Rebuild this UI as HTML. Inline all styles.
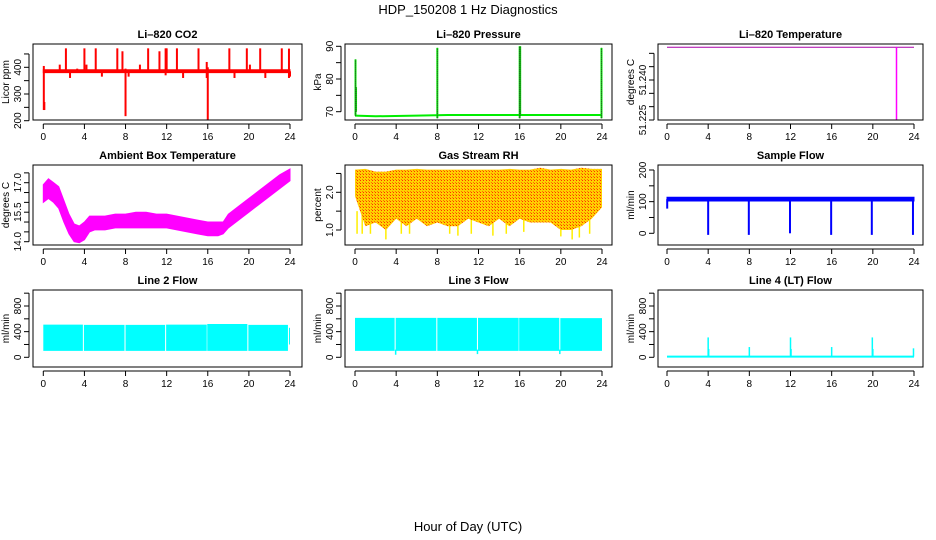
<!DOCTYPE html>
<html><head><meta charset="utf-8"><style>
html,body{margin:0;padding:0;background:#fff;}
svg{display:block;font-family:"Liberation Sans",sans-serif;}
</style></head><body>
<svg id="c" width="936" height="540" viewBox="0 0 936 540" xmlns="http://www.w3.org/2000/svg">
<defs>
<pattern id="rhpat" width="3" height="3" patternUnits="userSpaceOnUse">
<rect width="3" height="3" fill="#ffd000"/><rect width="1" height="1" fill="#ff3000"/><rect x="2" y="2" width="1" height="1" fill="#ff7000"/>
</pattern>
</defs>
<text x="468" y="14" font-size="13" text-anchor="middle">HDP_150208 1 Hz Diagnostics</text>
<text x="468" y="531" font-size="13" text-anchor="middle">Hour of Day (UTC)</text>
</svg>
<script>
// ---- data ----
const xTicks = [0,4,8,12,16,20,24];
// CO2
const co2BaseHours = [0,24];
const co2BaseLo = [380,380];
const co2BaseHi = [391,391];
const co2SpikeHours = [0.05,0.1,1.6,2.2,2.6,3.3,4.0,4.2,5.1,5.7,7.2,7.7,8.0,8.3,9.4,10.2,11.3,11.9,12.0,13.0,13.6,15.1,15.9,16.0,18.1,18.6,19.8,20.1,21.1,21.6,23.2,23.9,24.0];
const co2SpikeLo = [240,240,385,380,360,380,380,380,380,365,385,390,217,365,380,380,390,370,380,385,360,385,360,200,385,360,385,380,380,360,385,360,365];
const co2SpikeHi = [405,270,410,471,385,395,471,410,471,385,471,460,395,385,410,471,460,471,471,471,385,471,420,400,471,385,471,410,471,385,471,470,385];
// Pressure
const presBaseHours = [0,2,6,9,24];
const presBaseVals = [68.8,68.6,68.8,69.0,69.0];
const presSpikeHours = [0.05,0.1,8.0,16.0,16.05,23.95];
const presSpikeLo = [68.8,70,68,68,68.8,68];
const presSpikeHi = [86,77.5,89.5,90,90,89.5];
// Li-820 temperature
const ltempHours = [0,24];
const ltempVals = [51.2523,51.2523];
const ltempSpikeHours = [22.3];
const ltempSpikeLo = [51.222];
// Ambient box temperature
const ambHours = [0,0.5,1,1.5,2,2.5,3,3.5,4,4.5,5,6,7,8,9,10,11,12,13,14,15,16,17,17.5,18,19,20,21,22,23,24];
const ambLo = [16.0,16.2,16.0,15.7,15.0,14.4,14.0,13.95,14.1,14.5,14.6,14.6,14.7,14.7,14.7,14.7,14.7,14.7,14.6,14.5,14.4,14.3,14.3,14.4,14.7,15.1,15.5,15.9,16.3,16.7,17.1];
const ambHi = [16.9,17.2,17.0,16.8,16.1,15.4,14.9,14.8,15.0,15.3,15.3,15.3,15.4,15.4,15.5,15.5,15.4,15.4,15.3,15.2,15.1,15.0,15.0,15.0,15.4,15.8,16.2,16.6,17.0,17.4,17.7];
// Gas stream RH
const rhHours = [0,1,2,3,4,5,6,7,8,9,10,11,12,13,14,15,16,17,18,19,20,21,22,23,24];
const rhLo = [1.9,1.1,1.2,1.0,1.3,1.1,1.3,1.1,1.2,1.1,1.1,1.3,1.2,1.1,1.3,1.1,1.3,1.2,1.2,1.2,1.0,1.0,1.1,1.3,1.6];
const rhHi = [2.6,2.62,2.55,2.55,2.6,2.6,2.62,2.6,2.6,2.6,2.6,2.6,2.6,2.6,2.6,2.62,2.6,2.6,2.65,2.6,2.62,2.6,2.65,2.62,2.62];
const rhSpikeHours = [0.2,0.7,1.5,3.0,4.5,5.3,9.2,10.0,11.3,13.4,14.7,16.4,20.0,21.1,21.8,22.8];
const rhSpikeLo = [0.9,0.9,0.9,0.75,0.9,0.9,0.9,0.85,0.9,0.85,0.9,0.95,0.83,0.75,0.8,0.9];
// Sample flow
const sfHours = [0,24];
const sfLo = [102,102];
const sfHi = [114,114];
const sfSpikeHours = [0.02,4.0,7.95,11.95,15.95,19.9,23.9];
const sfSpikeLo = [78,-5,-5,0,-5,-5,-5];
// Line 2 flow
const l2Start = [0,3.95,8.0,11.95,15.95,19.95,23.9];
const l2End = [3.85,7.9,11.85,15.9,19.85,23.8,24];
const l2Lo = [100,100,100,100,100,100,200];
const l2Hi = [510,505,505,510,520,505,460];
// Line 3 flow
const l3Start = [0,3.95,8.0,11.95,15.95,19.95];
const l3End = [3.85,7.9,11.85,15.9,19.85,24];
const l3Lo = [100,100,100,100,100,100];
const l3Hi = [615,615,615,615,615,610];
const l3DipHours = [3.95,11.9,19.9];
const l3DipLo = [40,50,50];
// Line 4 flow
const l4Hours = [0,24];
const l4Vals = [10,10];
const l4SpikeHours = [4.0,4.05,8.0,12.0,12.05,16.0,19.95,20.0,23.95];
const l4SpikeHi = [310,130,160,310,130,160,310,130,140];

// ---- layout ----
const svg = document.getElementById('c');
const NS = 'http://www.w3.org/2000/svg';
const colL = [33,345,658], colR = [302,612,923];
const colX0 = [43.3,355,667], colX24 = [290,602,914];
const rowT = [44,165,290], rowB = [120,245,367];
function mk(tag, attrs, parent){ const e=document.createElementNS(NS,tag); for(const k in attrs) e.setAttribute(k,attrs[k]); (parent||svg).appendChild(e); return e; }

function panel(col,row,title,ylab,va,pa,vb,pb,yticks,ylabels,name){
  const g = mk('g',{});
  
  
  const L=colL[col],R=colR[col],T=rowT[row],B=rowB[row];
  const xs = h => colX0[col] + h*(colX24[col]-colX0[col])/24;
  const ys = v => pa + (v-va)*(pb-pa)/(vb-va);
  const clip = mk('clipPath',{id:'clip-'+name},g);
  mk('rect',{x:L,y:T,width:R-L,height:B-T},clip);
  const plot = mk('g',{'clip-path':'url(#clip-'+name+')'},g);
  
  
  const box = mk('rect',{x:L,y:T,width:R-L,height:B-T,fill:'none',stroke:'#000','stroke-width':1},g);
  
  
  const t = mk('text',{x:(L+R)/2,y:T-6,'font-size':11,'font-weight':'bold','text-anchor':'middle'},g);
  t.textContent = title;
  
  
  mk('line',{x1:xs(0),x2:xs(24),y1:B+4,y2:B+4,stroke:'#000'},g);
  xTicks.forEach(h=>{
    mk('line',{x1:xs(h),x2:xs(h),y1:B+4,y2:B+9,stroke:'#000'},g);
    const tl = mk('text',{x:xs(h),y:B+20,'font-size':10,'text-anchor':'middle'},g);
    tl.textContent = h;
    
    
  });
  mk('line',{x1:L-4,x2:L-4,y1:ys(yticks[0]),y2:ys(yticks[yticks.length-1]),stroke:'#000'},g);
  yticks.forEach(v=>{ mk('line',{x1:L-9,x2:L-4,y1:ys(v),y2:ys(v),stroke:'#000'},g); });
  ylabels.forEach(v=>{
    const y=ys(v), x=L-12;
    const tl = mk('text',{x:x,y:y,'font-size':10,'text-anchor':'middle',transform:`rotate(-90 ${x} ${y})`},g);
    tl.textContent = v;
    
    
  });
  const ax=L-24, ay=(T+B)/2;
  const yt = mk('text',{x:ax,y:ay,'font-size':10,'text-anchor':'middle',transform:`rotate(-90 ${ax} ${ay})`},g);
  yt.textContent = ylab;
  
  
  return {plot,xs,ys};
}
function band(p,hours,lo,hi,fill,noStroke){
  let d='M'+hours.map((h,i)=>p.xs(h)+','+p.ys(hi[i])).join('L');
  for(let i=hours.length-1;i>=0;i--) d+='L'+p.xs(hours[i])+','+p.ys(lo[i]);
  const e=mk('path',{d:d+'Z',fill:fill,stroke:noStroke?'none':fill,'stroke-width':1},p.plot);
  
  
}
function spikes(p,hours,lo,hi,col,w,dash){
  hours.forEach((h,i)=>{
    const a={x1:p.xs(h),x2:p.xs(h),y1:p.ys(lo[i]),y2:p.ys(hi[i]),stroke:col,'stroke-width':w};
    if(dash) a['stroke-dasharray']=dash;
    const e=mk('line',a,p.plot);
    
    
  });
}
function line(p,hours,vals,col,w){
  const e=mk('polyline',{points:hours.map((h,i)=>p.xs(h)+','+p.ys(vals[i])).join(' '),fill:'none',stroke:col,'stroke-width':w},p.plot);
  
  
}

let p = panel(0,0,'Li\u2013820 CO2','Licor ppm',200,120.7,400,67.3,[200,250,300,350,400,450],[200,300,400],'co2');
band(p,co2BaseHours,co2BaseLo,co2BaseHi,'#ff0000');
spikes(p,co2SpikeHours,co2SpikeLo,co2SpikeHi,'#ff0000',2);

p = panel(1,0,'Li\u2013820 Pressure','kPa',70,111.7,90,46.3,[70,75,80,85,90],[70,80,90],'pressure');
line(p,presBaseHours,presBaseVals,'#00ee00',2);
spikes(p,presSpikeHours,presSpikeLo,presSpikeHi,'#00ee00',2);
spikes(p,presSpikeHours,presSpikeLo,presSpikeHi,'#333',1,'1,1');

p = panel(2,0,'Li\u2013820 Temperature','degrees C',51.225,120,51.240,80,[51.225,51.230,51.235,51.240,51.245,51.250],['51.225','51.240'],'li820-temp');
line(p,ltempHours,ltempVals,'#aa00aa',1);
spikes(p,ltempSpikeHours,ltempSpikeLo,[ltempVals[0]],'#ff00ff',1.5);

p = panel(0,1,'Ambient Box Temperature','degrees C',14.0,241.7,17.0,182.7,[14.0,14.5,15.0,15.5,16.0,16.5,17.0,17.5],['14.0','15.5','17.0'],'ambient-temp');
band(p,ambHours,ambLo,ambHi,'#ff00ff');

p = panel(1,1,'Gas Stream RH','percent',1.0,230,2.0,192.3,[1.0,1.5,2.0,2.5],['1.0','2.0'],'gas-rh');
spikes(p,rhSpikeHours,rhSpikeLo,rhSpikeHours.map(()=>1.5),'#ffee00',1.5);
band(p,rhHours,rhLo,rhHi,'url(#rhpat)',true);

p = panel(2,1,'Sample Flow','ml/min',0,233.3,200,170,[0,50,100,150,200],[0,100,200],'sample-flow');
band(p,sfHours,sfLo,sfHi,'#0000ff');
spikes(p,sfSpikeHours,sfSpikeLo,sfSpikeHours.map(()=>108),'#0000ff',2);

const fT=[0,200,400,600,800,1000], fL=[0,400,800];
p = panel(0,2,'Line 2 Flow','ml/min',0,357.3,800,306,fT,fL,'line2-flow');
l2Start.forEach((s,i)=>band(p,[s,l2End[i]],[l2Lo[i],l2Lo[i]],[l2Hi[i],l2Hi[i]],'#00ffff',true));

p = panel(1,2,'Line 3 Flow','ml/min',0,357.3,800,306,fT,fL,'line3-flow');
l3Start.forEach((s,i)=>band(p,[s,l3End[i]],[l3Lo[i],l3Lo[i]],[l3Hi[i],l3Hi[i]],'#00ffff',true));
spikes(p,l3DipHours,l3DipLo,l3DipHours.map(()=>120),'#00ffff',1.5);

p = panel(2,2,'Line 4 (LT) Flow','ml/min',0,357.3,800,306,fT,fL,'line4-flow');
line(p,l4Hours,l4Vals,'#00ffff',2);
spikes(p,l4SpikeHours,l4SpikeHours.map(()=>10),l4SpikeHi,'#00ffff',1.5);
</script>
</body></html>
